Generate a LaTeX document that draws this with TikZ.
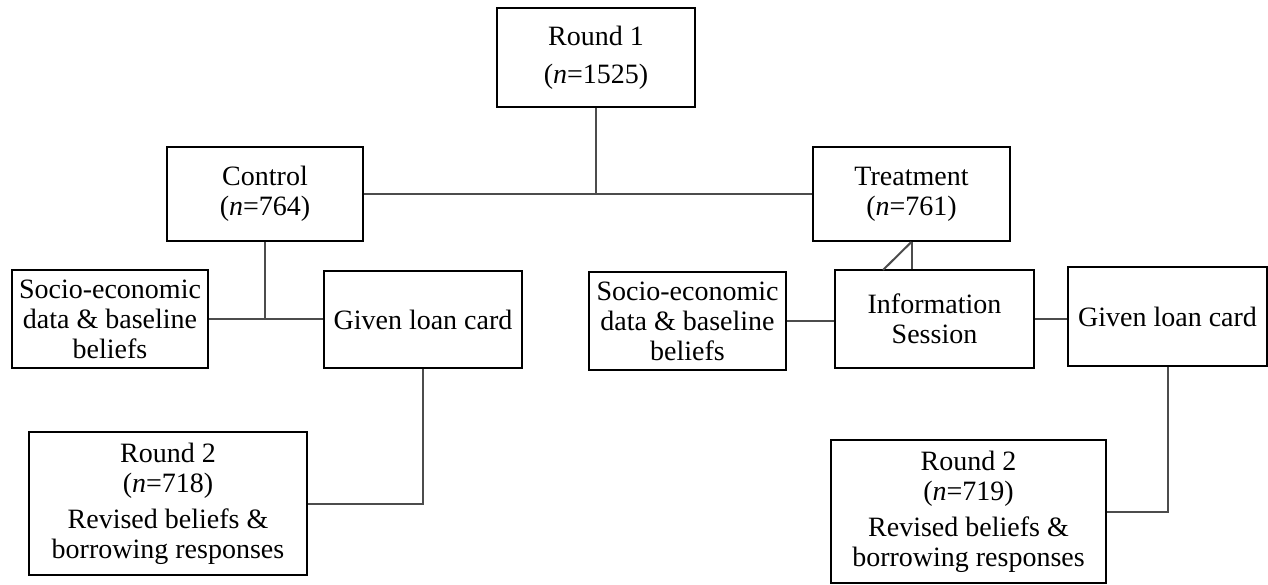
\documentclass[tikz,border=0pt]{standalone}
\usepackage{fontspec}
\setmainfont{Liberation Serif}

\begin{document}
\begin{tikzpicture}[x=0.5pt,y=-0.5pt,
    box/.style={draw=black,line width=0.9pt,inner sep=0pt,align=center,
      font=\fontsize{14}{15}\selectfont},
    link/.style={draw=black!70,line width=1pt}]
            \useasboundingbox (0,0) rectangle (1268,584);

            \node[box,minimum width=99pt,minimum height=49.5pt] (r1) at ( 596.0,  57.5) {Round 1\\[4pt](\textit{n}=1525)};
            \node[box,minimum width=98pt,minimum height=47pt] (ctrl) at ( 265.0, 194.0) {Control\\(\textit{n}=764)};
            \node[box,minimum width=98.5pt,minimum height=47pt] (treat) at ( 911.5, 194.0) {Treatment\\(\textit{n}=761)};

            \node[box,minimum width=98pt,minimum height=49pt] (socL) at ( 110.0, 319.0) {Socio-economic\\data \& baseline\\beliefs};
            \node[box,minimum width=99pt,minimum height=48.5pt] (loanL) at ( 423.0, 319.5) {Given loan card};
            \node[box,minimum width=98.5pt,minimum height=49pt] (socR) at ( 687.5, 321.0) {Socio-economic\\data \& baseline\\beliefs};
            \node[box,minimum width=99.5pt,minimum height=49pt] (info) at ( 934.5, 319.0) {Information\\Session};
            \node[box,minimum width=99.5pt,minimum height=49.5pt] (loanR) at (1167.5, 316.5) {Given loan card};

            \node[box,minimum width=139pt,minimum height=71.5pt] (r2L) at ( 168.0, 503.5) {Round 2\\(\textit{n}=718)\\[3pt]Revised beliefs \&\\borrowing responses};
            \node[box,minimum width=137.5pt,minimum height=71.5pt] (r2R) at ( 968.5, 511.5) {Round 2\\(\textit{n}=719)\\[3pt]Revised beliefs \&\\borrowing responses};

            \coordinate (split) at (596,194);
            \coordinate (slant) at (883,270);

            \draw[link] (r1) -- (split);
            \draw[link] (ctrl) -- (treat);
            \draw[link] (ctrl) -- (ctrl |- socL.east);
            \draw[link] (socL.east) -- (socL.east -| loanL.west);
            \draw[link] (treat.south) -- (treat.south |- info.north);
            \draw[link] (treat.south) -- (slant);
            \draw[link] (socR.east) -- (socR.east -| info.west);
            \draw[link] (info.east) -- (info.east -| loanR.west);
            \draw[link] (loanL.south) |- (r2L.east);
            \draw[link] (loanR.south) |- (r2R.east);
          \end{tikzpicture}
\end{document}
